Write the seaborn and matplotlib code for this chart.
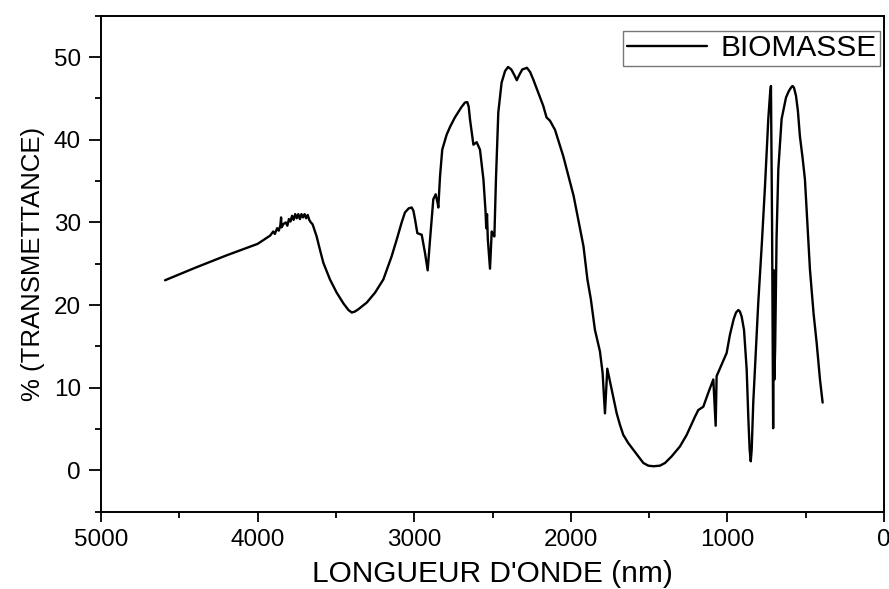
import numpy as np
import pandas as pd
import matplotlib
matplotlib.use("Agg")
import matplotlib.pyplot as plt
from matplotlib.ticker import MultipleLocator
import seaborn as sns

# FTIR spectrum of the biomass sample
wavelength = [
    4591, 4400, 4200, 4000, 3920, 3900, 3890, 3875, 3865, 3855, 3850, 3847,
    3835, 3820, 3810, 3800, 3790, 3780, 3770, 3760, 3750, 3740, 3730, 3720,
    3710, 3700, 3690, 3680, 3670, 3660, 3650, 3644, 3623, 3602, 3580, 3538,
    3495, 3452, 3420, 3399, 3380, 3356, 3303, 3250, 3197, 3144, 3112, 3080,
    3059, 3035, 3016, 3005, 2995, 2980, 2965, 2952, 2931, 2914, 2899, 2878,
    2863, 2850, 2846, 2835, 2821, 2793, 2770, 2740, 2700, 2676, 2661, 2652,
    2644, 2622, 2601, 2580, 2558, 2545, 2540, 2535, 2530, 2516, 2505, 2495,
    2488, 2478, 2463, 2442, 2420, 2401, 2380, 2360, 2345, 2330, 2310, 2280,
    2260, 2240, 2176, 2155, 2133, 2101, 2048, 1982, 1919, 1894, 1872, 1846,
    1814, 1797, 1782, 1767, 1739, 1707, 1686, 1665, 1633, 1601, 1569, 1537,
    1505, 1473, 1431, 1398, 1356, 1303, 1260, 1207, 1186, 1154, 1122, 1090,
    1075, 1069, 1037, 1005, 984, 960, 945, 930, 920, 909, 894, 877, 866, 858,
    851, 845, 835, 820, 803, 780, 760, 739, 728, 722, 715, 708, 703, 700, 695,
    686, 675, 654, 626, 610, 601, 590, 584, 575, 562, 550, 537, 520, 505, 490,
    473, 450, 430, 409, 392,
]
transmittance = [
    23.0, 24.5, 26.0, 27.4, 28.4, 28.9, 28.6, 29.3, 29.0, 29.6, 30.6, 29.4,
    29.8, 30.0, 29.6, 30.4, 30.1, 30.8, 30.3, 31.0, 30.5, 31.0, 30.4, 31.0,
    30.6, 31.0, 30.5, 30.9, 30.3, 30.0, 29.8, 29.5, 28.3, 26.7, 25.1, 23.1,
    21.5, 20.2, 19.4, 19.1, 19.2, 19.5, 20.3, 21.5, 23.1, 25.9, 27.9, 30.0,
    31.2, 31.7, 31.8, 31.4, 30.4, 28.7, 28.6, 28.5, 26.3, 24.2, 27.9, 32.8,
    33.4, 32.3, 31.8, 35.6, 38.8, 40.6, 41.6, 42.7, 43.9, 44.5, 44.55, 44.0,
    42.5, 39.4, 39.7, 38.8, 35.2, 31.5, 29.3, 31.0, 28.0, 24.4, 28.9, 28.5,
    28.3, 35.2, 43.3, 46.9, 48.3, 48.8, 48.5, 47.8, 47.2, 47.8, 48.5, 48.7,
    48.2, 47.3, 44.1, 42.7, 42.3, 41.2, 38.0, 33.2, 27.1, 23.1, 20.7, 17.0,
    14.4, 11.8, 6.9, 12.3, 9.8, 6.9, 5.5, 4.3, 3.3, 2.5, 1.7, 0.9,
    0.57, 0.5, 0.57, 0.9, 1.7, 2.9, 4.3, 6.5, 7.3, 7.7, 9.4, 11.0,
    5.4, 11.4, 12.8, 14.2, 16.4, 18.3, 19.1, 19.4, 19.2, 18.6, 17.0, 12.2, 6.1, 2.5,
    1.1, 2.5, 8.2, 14.0, 20.3, 27.5, 34.4, 42.5, 45.5, 46.5, 30.0, 5.1, 24.2, 11.0, 15.0,
    28.3, 36.4, 42.5, 45.1, 45.8, 46.1, 46.4, 46.5, 46.3, 45.3, 43.5, 40.4, 37.8, 35.2, 30.0,
    24.3, 19.0, 15.4, 11.0, 8.2,
]

df = pd.DataFrame({"wavelength": wavelength, "transmittance": transmittance})

sns.set_theme(style="ticks")
plt.rcParams["font.family"] = ["Liberation Sans", "DejaVu Sans"]
for key in ["text.color", "axes.labelcolor", "xtick.color", "ytick.color",
            "axes.edgecolor"]:
    plt.rcParams[key] = "black"

fig = plt.figure(figsize=(8.89, 5.89), dpi=100)
ax = fig.add_axes([0.1136, 0.1312, 0.8808, 0.8421])

sns.lineplot(data=df, x="wavelength", y="transmittance", sort=False,
             estimator=None, color="black", linewidth=1.7,
             label="BIOMASSE", ax=ax)

ax.set_xlim(5000, 0)
ax.set_ylim(-5, 55)
ax.xaxis.set_major_locator(MultipleLocator(1000))
ax.xaxis.set_minor_locator(MultipleLocator(500))
ax.yaxis.set_major_locator(MultipleLocator(10))
ax.yaxis.set_minor_locator(MultipleLocator(5))

ax.tick_params(axis="both", which="major", direction="out", width=1.3,
               labelsize=17.5, color="black", labelcolor="black")
ax.tick_params(axis="x", which="major", length=7.5, pad=5)
ax.tick_params(axis="y", which="major", length=8.5, pad=6)
ax.tick_params(axis="both", which="minor", direction="out", length=4,
               width=1.3, color="black")
ax.tick_params(top=False, right=False, which="both")

for side in ["left", "right", "top", "bottom"]:
    ax.spines[side].set_visible(True)
    ax.spines[side].set_linewidth(1.4)
    ax.spines[side].set_color("black")

ax.set_xlabel("LONGUEUR D'ONDE (nm)", fontsize=21.5)
ax.xaxis.label.set_va("baseline")
ax.xaxis.set_label_coords(0.5, -0.142)
ax.set_ylabel("% (TRANSMETTANCE)", fontsize=18.5, labelpad=6)

leg = ax.legend(loc="upper right", bbox_to_anchor=(0.9955, 0.9695),
                borderaxespad=0, fontsize=21.5, frameon=True, fancybox=False,
                handlelength=2.7, handletextpad=0.45, borderpad=0.12)
leg.get_frame().set_edgecolor("#555555")
leg.get_frame().set_linewidth(1.0)

fig.savefig("out.png", dpi=100)
